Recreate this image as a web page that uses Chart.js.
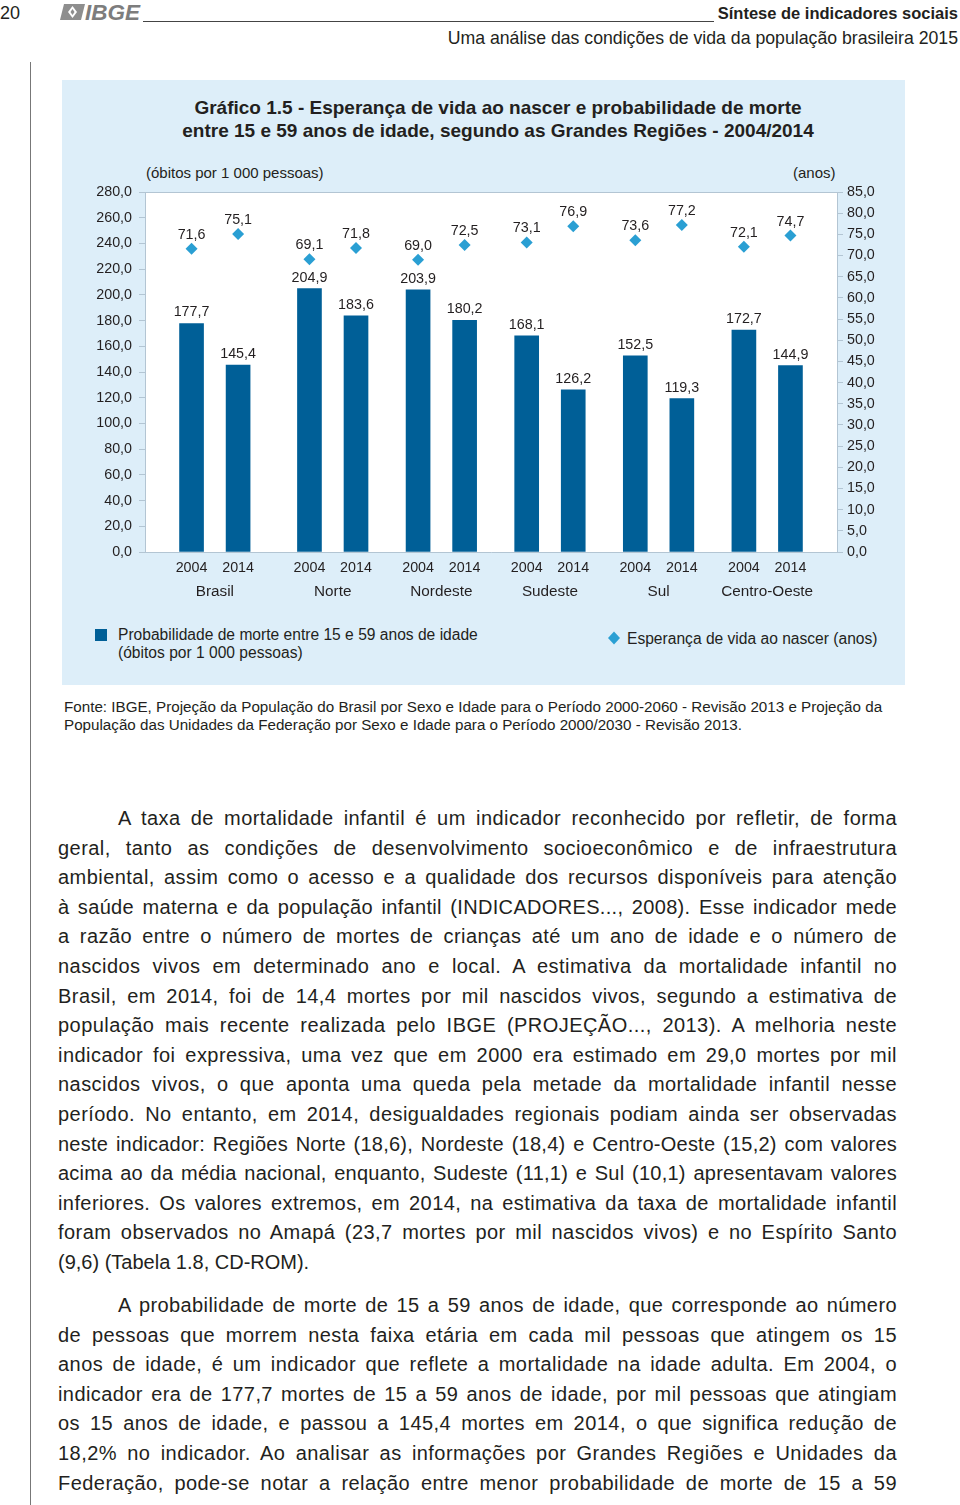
<!DOCTYPE html>
<html lang="pt-BR">
<head>
<meta charset="utf-8">
<title>Gráfico 1.5</title>
<script src="https://cdn.jsdelivr.net/npm/chart.js@4.4.0/dist/chart.umd.min.js"></script>
<style>
  body { margin: 0; width: 960px; height: 1505px; position: relative; overflow: hidden;
         background: #fff; color: #231f20; font-family: "Liberation Sans", Arial, sans-serif; }
  .abs { position: absolute; white-space: nowrap; }
  #panel { position: absolute; left: 62px; top: 80px; width: 843px; height: 605px; background: #ddeef9; }
  #chartBox { position: absolute; left: 62px; top: 161px; width: 843px; height: 450px; }
  .title { left: 98px; width: 800px; top: 96px; text-align: center; font-weight: bold; font-size: 19px; line-height: 23px; }
  .unit { font-size: 15px; top: 164px; }
  .legend { font-size: 15.6px; line-height: 18px; }
  .fonte { left: 64px; top: 698px; font-size: 15.2px; line-height: 18px; }
  .body { position: absolute; left: 58px; width: 839px; font-size: 20px; line-height: 29.6px; }
  .ln { white-space: nowrap; text-align: justify; text-align-last: justify; }
  .ln.first { padding-left: 60px; }
  .ln.last { text-align-last: left; }
</style>
</head>
<body>

<!-- cabeçalho -->
<div class="abs" style="left:0;top:3px;font-size:18px;">20</div>
<svg class="abs" style="left:60px;top:2px" width="84" height="21" viewBox="0 0 84 21">
  <path d="M4 2 H25 L21 18 H0 Z" fill="#8e8e8e"/>
  <path d="M12.5 4 L17 10 L12.5 16 L8 10 Z" fill="#fff"/>
  <path d="M12.5 7 L14.5 10 L12.5 13 L10.5 10 Z" fill="#8e8e8e"/>
  <text x="25" y="18" font-family="Liberation Sans, Arial" font-weight="bold" font-style="italic" font-size="22.5" fill="#7d7d7d">IBGE</text>
</svg>
<div class="abs" style="left:143px;top:21px;width:571px;height:1px;background:#444"></div>
<div class="abs" style="right:2px;top:4px;font-size:16.5px;font-weight:bold;">Síntese de indicadores sociais</div>
<div class="abs" style="right:2px;top:28px;font-size:17.7px;">Uma análise das condições de vida da população brasileira 2015</div>
<div class="abs" style="left:30px;top:62px;width:1px;height:1443px;background:#777"></div>

<!-- painel do gráfico -->
<div id="panel"></div>
<div class="abs title">Gráfico 1.5 - Esperança de vida ao nascer e probabilidade de morte<br>entre 15 e 59 anos de idade, segundo as Grandes Regiões - 2004/2014</div>
<div class="abs unit" style="left:146px;">(óbitos por 1 000 pessoas)</div>
<div class="abs unit" style="left:793px;">(anos)</div>
<div id="chartBox"><canvas id="chart" width="843" height="450"></canvas></div>

<div class="abs" style="left:95px;top:629px;width:12px;height:12px;background:#005f97"></div>
<div class="abs legend" style="left:118px;top:626px;">Probabilidade de morte entre 15 e 59 anos de idade<br>(óbitos por 1 000 pessoas)</div>
<svg class="abs" style="left:607px;top:631px" width="14" height="14"><path d="M7 0.5 L13 7 L7 13.5 L1 7 Z" fill="#2a9fd3"/></svg>
<div class="abs legend" style="left:627px;top:630px;">Esperança de vida ao nascer (anos)</div>

<div class="abs fonte">Fonte: IBGE, Projeção da População do Brasil por Sexo e Idade para o Período 2000-2060 - Revisão 2013 e Projeção da<br>População das Unidades da Federação por Sexo e Idade para o Período 2000/2030 - Revisão 2013.</div>

<!-- texto -->
<div class="body" style="top:804px;">
  <div class="ln first">A taxa de mortalidade infantil é um indicador reconhecido por refletir, de forma</div>
  <div class="ln">geral, tanto as condições de desenvolvimento socioeconômico e de infraestrutura</div>
  <div class="ln">ambiental, assim como o acesso e a qualidade dos recursos disponíveis para atenção</div>
  <div class="ln">à saúde materna e da população infantil (INDICADORES..., 2008). Esse indicador mede</div>
  <div class="ln">a razão entre o número de mortes de crianças até um ano de idade e o número de</div>
  <div class="ln">nascidos vivos em determinado ano e local. A estimativa da mortalidade infantil no</div>
  <div class="ln">Brasil, em 2014, foi de 14,4 mortes por mil nascidos vivos, segundo a estimativa de</div>
  <div class="ln">população mais recente realizada pelo IBGE (PROJEÇÃO..., 2013). A melhoria neste</div>
  <div class="ln">indicador foi expressiva, uma vez que em 2000 era estimado em 29,0 mortes por mil</div>
  <div class="ln">nascidos vivos, o que aponta uma queda pela metade da mortalidade infantil nesse</div>
  <div class="ln">período. No entanto, em 2014, desigualdades regionais podiam ainda ser observadas</div>
  <div class="ln">neste indicador: Regiões Norte (18,6), Nordeste (18,4) e Centro-Oeste (15,2) com valores</div>
  <div class="ln">acima ao da média nacional, enquanto, Sudeste (11,1) e Sul (10,1) apresentavam valores</div>
  <div class="ln">inferiores. Os valores extremos, em 2014, na estimativa da taxa de mortalidade infantil</div>
  <div class="ln">foram observados no Amapá (23,7 mortes por mil nascidos vivos) e no Espírito Santo</div>
  <div class="ln last">(9,6) (Tabela 1.8, CD-ROM).</div>
</div>
<div class="body" style="top:1291px;">
  <div class="ln first">A probabilidade de morte de 15 a 59 anos de idade, que corresponde ao número</div>
  <div class="ln">de pessoas que morrem nesta faixa etária em cada mil pessoas que atingem os 15</div>
  <div class="ln">anos de idade, é um indicador que reflete a mortalidade na idade adulta. Em 2004, o</div>
  <div class="ln">indicador era de 177,7 mortes de 15 a 59 anos de idade, por mil pessoas que atingiam</div>
  <div class="ln">os 15 anos de idade, e passou a 145,4 mortes em 2014, o que significa redução de</div>
  <div class="ln">18,2% no indicador. Ao analisar as informações por Grandes Regiões e Unidades da</div>
  <div class="ln">Federação, pode-se notar a relação entre menor probabilidade de morte de 15 a 59</div>
</div>

<script>
const regions = ['Brasil', 'Norte', 'Nordeste', 'Sudeste', 'Sul', 'Centro-Oeste'];
const years = ['2004', '2014'];
// Probabilidade de morte entre 15 e 59 anos (óbitos por 1 000 pessoas)
const deathProb2004 = [177.7, 204.9, 203.9, 168.1, 152.5, 172.7];
const deathProb2014 = [145.4, 183.6, 180.2, 126.2, 119.3, 144.9];
// Esperança de vida ao nascer (anos)
const lifeExp2004 = [71.6, 69.1, 69.0, 73.1, 73.6, 72.1];
const lifeExp2014 = [75.1, 71.8, 72.5, 76.9, 77.2, 74.7];
const leftTicks = { min: 0, max: 280, step: 20 };
const rightTicks = { min: 0, max: 85, step: 5 };

const BAR = '#005f97';
const DIAMOND = '#2a9fd3';
const AXIS = '#b3c5d3';
const TEXT = '#231f20';
const FONT = '"Liberation Sans", Arial, sans-serif';

// spread the body text a little: part of each line's slack goes into letter spacing
(function () {
  const m = document.createElement('canvas').getContext('2d');
  m.font = '20px ' + FONT;
  document.querySelectorAll('.ln:not(.last)').forEach(el => {
    const txt = el.textContent;
    const avail = 839 - (el.classList.contains('first') ? 60 : 0);
    const slack = avail - m.measureText(txt).width;
    const ls = Math.max(0, Math.min(0.45, slack * 0.5 / txt.length));
    el.style.letterSpacing = ls.toFixed(2) + 'px';
  });
})();

// slot on the x axis: pairs 3 units apart, 4 units between regions, a bit more after Brasil
function slot(g, k) { return 3 + 7 * g + (g > 0 ? 0.6 : 0) + 3 * k; }
const X_MAX = slot(regions.length - 1, 1) + 3;

const barPoints = [], diamondPoints = [];
regions.forEach((r, g) => {
  barPoints.push({ x: slot(g, 0), y: deathProb2004[g] }, { x: slot(g, 1), y: deathProb2014[g] });
  diamondPoints.push({ x: slot(g, 0), y: lifeExp2004[g] }, { x: slot(g, 1), y: lifeExp2014[g] });
});

const fmt = v => v.toFixed(1).replace('.', ',');

const plotFrame = {
  id: 'plotFrame',
  beforeDraw(chart) {
    const { ctx, chartArea: a } = chart;
    ctx.save();
    ctx.fillStyle = '#fff';
    ctx.fillRect(a.left, a.top, a.right - a.left, a.bottom - a.top);
    ctx.strokeStyle = AXIS;
    ctx.lineWidth = 1;
    ctx.beginPath();
    ctx.moveTo(a.left, a.top + 0.5);
    ctx.lineTo(a.right, a.top + 0.5);
    ctx.stroke();
    ctx.restore();
  }
};

const valueLabels = {
  id: 'valueLabels',
  afterDatasetsDraw(chart) {
    const { ctx } = chart;
    ctx.save();
    ctx.font = '14.3px ' + FONT;
    ctx.fillStyle = TEXT;
    ctx.textAlign = 'center';
    ctx.textBaseline = 'middle';
    chart.data.datasets.forEach((ds, i) => {
      const meta = chart.getDatasetMeta(i);
      const off = ds.type === 'bar' ? 11 : 14;
      meta.data.forEach((el, j) => {
        ctx.fillText(fmt(ds.data[j].y), el.x, el.y - off);
      });
    });
    ctx.restore();
  }
};

Chart.defaults.font.family = FONT;
Chart.defaults.color = TEXT;

new Chart(document.getElementById('chart'), {
  data: {
    datasets: [
      {
        type: 'line',
        label: 'Esperança de vida ao nascer (anos)',
        data: diamondPoints,
        xAxisID: 'x',
        yAxisID: 'y1',
        showLine: false,
        pointStyle: 'rectRot',
        pointRadius: 6,
        borderWidth: 0,
        backgroundColor: DIAMOND,
        borderColor: DIAMOND,
        order: 0
      },
      {
        type: 'bar',
        label: 'Probabilidade de morte entre 15 e 59 anos de idade (óbitos por 1 000 pessoas)',
        data: barPoints,
        xAxisID: 'x',
        yAxisID: 'y',
        backgroundColor: BAR,
        barThickness: 24,
        order: 1
      }
    ]
  },
  options: {
    responsive: false,
    animation: false,
    events: [],
    layout: { padding: { top: 31, left: 0, right: 0, bottom: 0 } },
    plugins: { legend: { display: false }, tooltip: { enabled: false }, title: { display: false } },
    scales: {
      x: {
        type: 'linear', position: 'bottom', min: 0, max: X_MAX, offset: false, weight: 0,
        grid: { display: false, drawTicks: false },
        border: { display: true, color: AXIS, width: 1 },
        afterBuildTicks: s => { s.ticks = barPoints.map(p => ({ value: p.x })); },
        afterFit: s => { s.height = 24; },
        ticks: { padding: 7, font: { size: 14.3 }, color: TEXT, maxRotation: 0, autoSkip: false,
                 callback: (v, i) => years[i % 2] }
      },
      xg: {
        type: 'linear', position: 'bottom', min: 0, max: X_MAX, offset: false, weight: 1,
        grid: { display: false, drawTicks: false },
        border: { display: false },
        afterBuildTicks: s => { s.ticks = regions.map((r, g) => ({ value: slot(g, 0) + 1.5 })); },
        afterFit: s => { s.height = 35; },
        ticks: { padding: 7, font: { size: 15.3 }, color: TEXT, maxRotation: 0, autoSkip: false,
                 callback: (v, i) => regions[i] }
      },
      y: {
        type: 'linear', position: 'left', min: leftTicks.min, max: leftTicks.max,
        grid: { drawOnChartArea: false, tickLength: 6, color: AXIS },
        border: { display: true, color: AXIS, width: 1 },
        afterFit: s => { s.width = 83; },
        ticks: { stepSize: leftTicks.step, padding: 7, font: { size: 14.3 }, color: TEXT, callback: v => fmt(v) }
      },
      y1: {
        type: 'linear', position: 'right', min: rightTicks.min, max: rightTicks.max,
        grid: { drawOnChartArea: false, tickLength: 6, color: AXIS },
        border: { display: true, color: AXIS, width: 1 },
        afterFit: s => { s.width = 68; },
        ticks: { stepSize: rightTicks.step, padding: 4, font: { size: 14.3 }, color: TEXT, callback: v => fmt(v) }
      }
    }
  },
  plugins: [plotFrame, valueLabels]
});
</script>
</body>
</html>
